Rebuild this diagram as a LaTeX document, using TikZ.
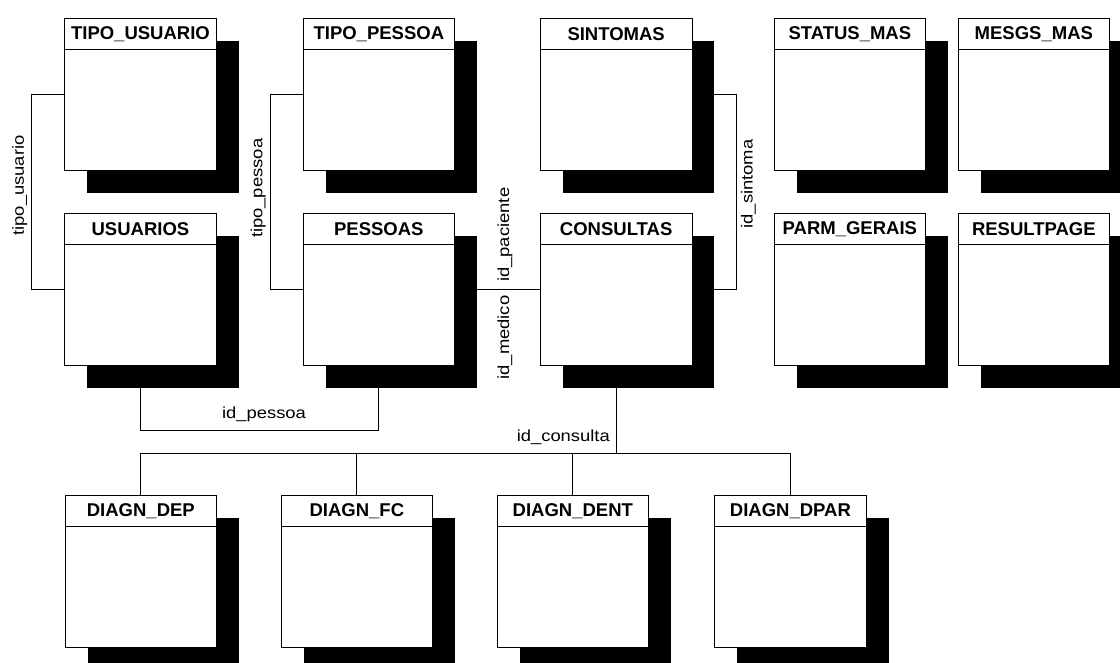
\documentclass[tikz,border=0pt]{standalone}
\usepackage{fontspec}
\setmainfont{Liberation Sans}
\newfontfamily\fkfont[FakeStretch=1.15]{Liberation Sans}
\usetikzlibrary{shadows,backgrounds}

\begin{document}
\begin{tikzpicture}[
    x=1pt, y=-1pt,
    font=\fontsize{18.5}{22}\selectfont,
    tabbox/.style={
        rectangle, draw=black, line width=0.8pt, fill=white,
        minimum width=151.5pt, minimum height=152pt,
        anchor=north west, inner sep=0pt,
        general shadow={fill=black, shadow xshift=22.4pt, shadow yshift=-22.4pt}
    },
    tabhead/.style={
        rectangle, draw=black, line width=0.8pt, fill=white,
        minimum width=151.5pt, minimum height=31pt,
        anchor=north, inner sep=0pt,
        font=\fontsize{18.5}{22}\selectfont\bfseries
    },
    link/.style={draw=black, line width=0.8pt},
    fk/.style={inner sep=0pt, font=\fkfont\fontsize{16}{19}\selectfont}
]
\useasboundingbox (0,0) rectangle (1120,662);
\clip (0,0) rectangle (1120,662);

% first row
\node[tabbox] (tipousuario) at (64.3,18.3) {};
\node[tabhead] (tipousuario-h) at (tipousuario.north) {TIPO\_USUARIO};
\node[tabbox] (tipopessoa) at (302.7,18.3) {};
\node[tabhead] (tipopessoa-h) at (tipopessoa.north) {TIPO\_PESSOA};
\node[tabbox] (sintomas) at (540,18.3) {};
\node[tabhead] (sintomas-h) at (sintomas.north) {SINTOMAS};
\node[tabbox] (statusmas) at (773.7,18.3) {};
\node[tabhead] (statusmas-h) at (statusmas.north) {STATUS\_MAS};
\node[tabbox] (mesgsmas) at (957.7,18.3) {};
\node[tabhead] (mesgsmas-h) at (mesgsmas.north) {MESGS\_MAS};

% second row
\node[tabbox] (usuarios) at (64.3,213.3) {};
\node[tabhead] (usuarios-h) at (usuarios.north) {USUARIOS};
\node[tabbox] (pessoas) at (302.7,213.3) {};
\node[tabhead] (pessoas-h) at (pessoas.north) {PESSOAS};
\node[tabbox] (consultas) at (540,213.3) {};
\node[tabhead] (consultas-h) at (consultas.north) {CONSULTAS};
\node[tabbox] (parmgerais) at (773.7,213.3) {};
\node[tabhead] (parmgerais-h) at (parmgerais.north) {PARM\_GERAIS};
\node[tabbox] (resultpage) at (957.7,213.3) {};
\node[tabhead] (resultpage-h) at (resultpage.north) {RESULTPAGE};

% third row
\node[tabbox] (diagndep) at (64.7,495.3) {};
\node[tabhead] (diagndep-h) at (diagndep.north) {DIAGN\_DEP};
\node[tabbox] (diagnfc) at (280.7,495.3) {};
\node[tabhead] (diagnfc-h) at (diagnfc.north) {DIAGN\_FC};
\node[tabbox] (diagndent) at (496.7,495.3) {};
\node[tabhead] (diagndent-h) at (diagndent.north) {DIAGN\_DENT};
\node[tabbox] (diagndpar) at (714.3,495.3) {};
\node[tabhead] (diagndpar-h) at (diagndpar.north) {DIAGN\_DPAR};

% relations
\begin{pgfonlayer}{background}
\draw[link] (tipousuario.west) -- ++(-32.6,0) |- (usuarios.west);
\draw[link] (tipopessoa.west) -- ++(-32,0) |- (pessoas.west);
\draw[link] (sintomas.east) -- ++(43.8,0) |- (consultas.east);
\draw[link] (pessoas.east) -- (consultas.west);
\draw[link] (usuarios.south) -- ++(0,64.7) -| (pessoas.south);
\path (consultas.south) ++(0,87) coordinate (split);
\draw[link] (consultas.south) -- (split);
\draw[link] (split) -| (diagndep.north);
\draw[link] (split) -| (diagnfc.north);
\draw[link] (split) -| (diagndent.north);
\draw[link] (split) -| (diagndpar.north);
\end{pgfonlayer}

\node[fk, rotate=90] (lbltipousuario) at (19.7,185.5) {tipo\_usuario};
\node[fk, rotate=90] (lbltipopessoa) at (258.3,188.3) {tipo\_pessoa};
\node[fk, rotate=90] (lblsintoma) at (748.3,184) {id\_sintoma};
\node[fk, rotate=90] (lblpaciente) at (505,234.8) {id\_paciente};
\node[fk, rotate=90] (lblmedico) at (505,337.5) {id\_medico};
\node[fk] (lblpessoa) at (264,414) {id\_pessoa};
\node[fk] (lblconsulta) at (563.3,437) {id\_consulta};
\end{tikzpicture}
\end{document}
